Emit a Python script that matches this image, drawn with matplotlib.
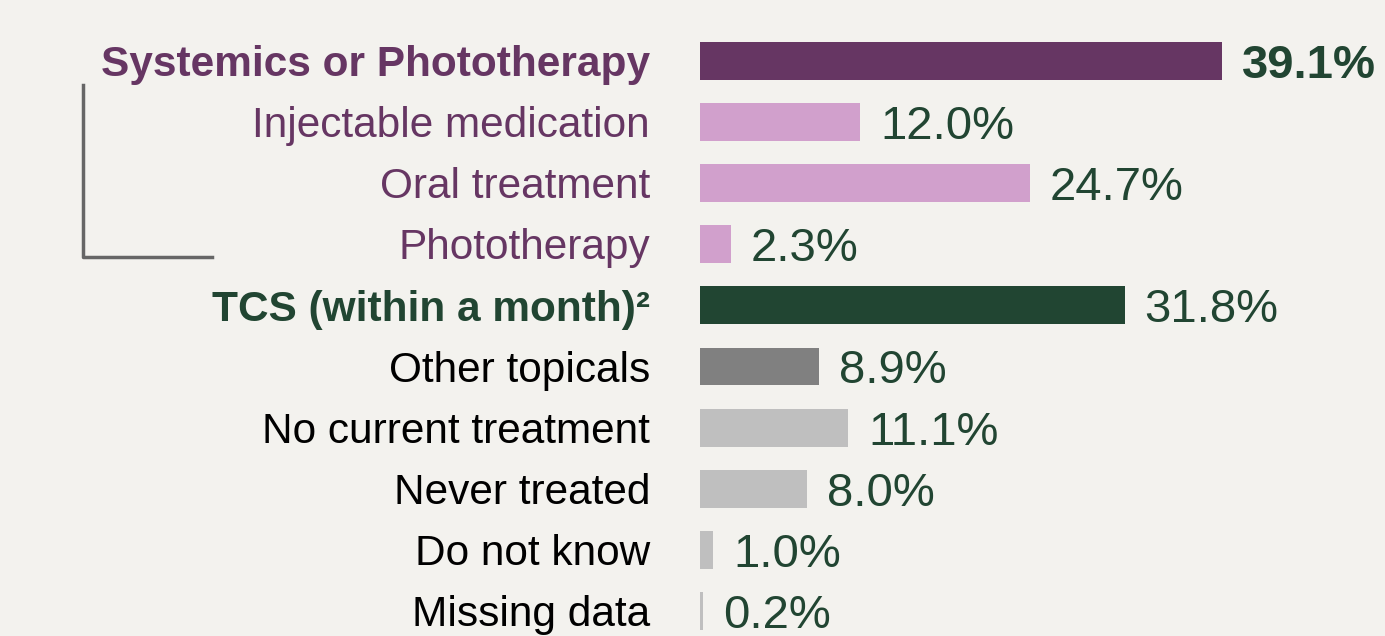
import matplotlib.pyplot as plt

# chart data
labels = ['Systemics or Phototherapy', 'Injectable medication', 'Oral treatment',
          'Phototherapy', 'TCS (within a month)²', 'Other topicals',
          'No current treatment', 'Never treated', 'Do not know', 'Missing data']
values = [39.1, 12.0, 24.7, 2.3, 31.8, 8.9, 11.1, 8.0, 1.0, 0.2]
bar_colors = ['#663663', '#D1A0CC', '#D1A0CC', '#D1A0CC', '#214532',
              '#808080', '#BFBFBF', '#BFBFBF', '#BFBFBF', '#BFBFBF']
label_colors = ['#663663', '#663663', '#663663', '#663663', '#214532',
                'black', 'black', 'black', 'black', 'black']
bold_rows = [0, 4]

BG = '#F3F2EE'
VAL_COLOR = '#214532'

plt.rcParams['font.family'] = ['Liberation Sans', 'DejaVu Sans']

fig = plt.figure(figsize=(13.85, 6.36), dpi=100, facecolor=BG)
ax = fig.add_axes([700 / 1385, 0, 685 / 1385, 1])
ax.set_facecolor(BG)

px = 13.35  # pixels per percent
row = 61.1  # pixels per row
ax.set_xlim(0, 685 / px)
ax.set_ylim((636 - 61) / row, -61 / row)

ypos = list(range(len(labels)))
ax.barh(ypos, values, height=0.62, color=bar_colors)

lab_fs = 30.5
val_fs = 34
# shift baseline down by half the cap height so caps sit centred on the bar
lab_off = lab_fs * 100 / 72 * 0.716 / 2 / row
val_off = val_fs * 100 / 72 * 0.716 / 2 / row

for i, (lab, v) in enumerate(zip(labels, values)):
    w = 'bold' if i in bold_rows else 'normal'
    ax.text(-50 / px, i + lab_off, lab, ha='right', va='baseline', fontsize=lab_fs,
            color=label_colors[i], fontweight=w, clip_on=False)
    vw = 'bold' if i == 0 else 'normal'
    ax.text(v + 20 / px, i + val_off, f'{v:.1f}%', ha='left', va='baseline',
            fontsize=val_fs, color=VAL_COLOR, fontweight=vw, clip_on=False)

ax.axis('off')

# bracket grouping the systemic sub-rows
fig.add_artist(plt.Line2D([83 / 1385, 83 / 1385, 212 / 1385],
                          [1 - 85 / 636, 1 - 257 / 636, 1 - 257 / 636],
                          color='#666666', lw=2.5, transform=fig.transFigure))

fig.savefig('out.png', dpi=100, facecolor=BG)
